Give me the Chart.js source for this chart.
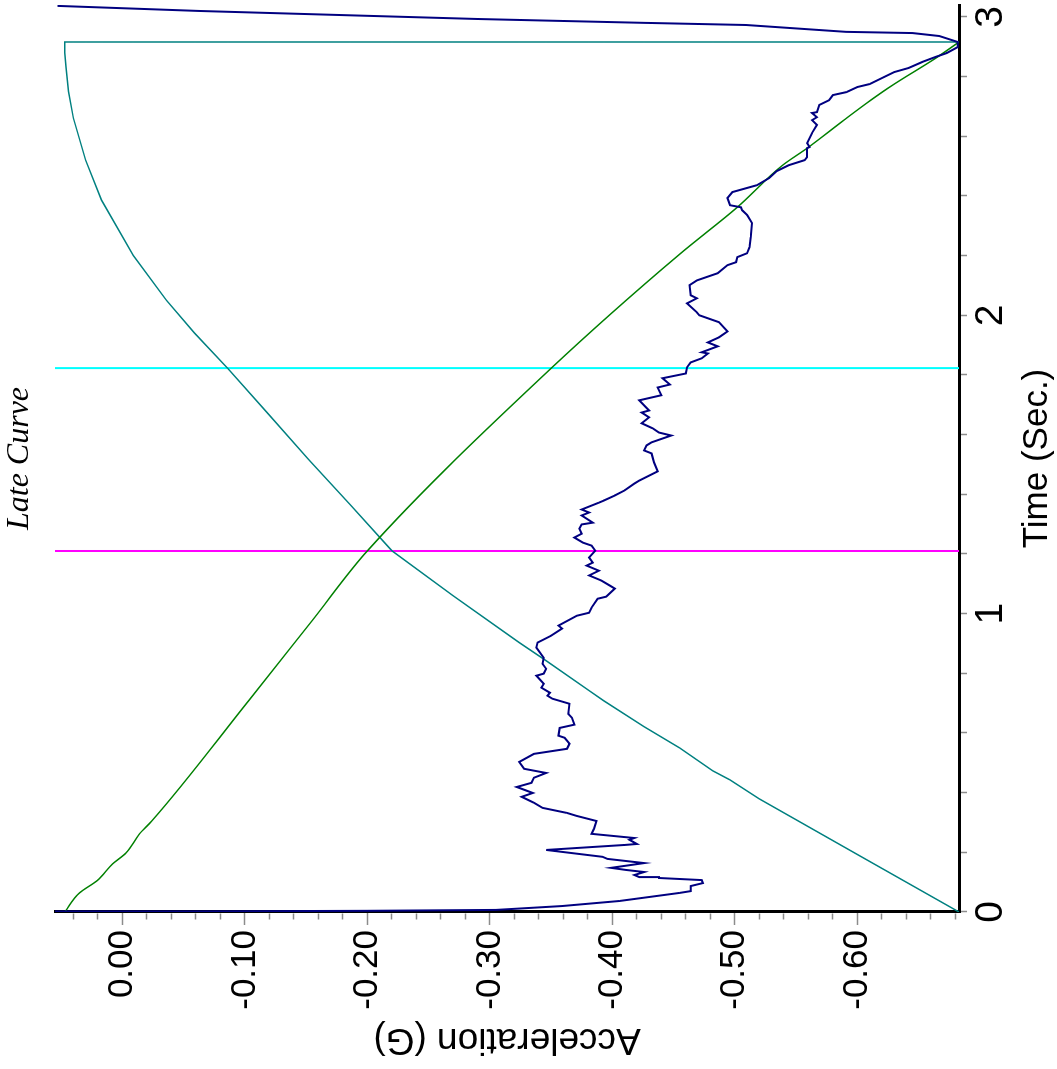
<!DOCTYPE html>
<html>
<head>
<meta charset="utf-8">
<script src="https://cdn.jsdelivr.net/npm/chart.js@4.4.1/dist/chart.umd.min.js"></script>
<style>
html,body{margin:0;padding:0;background:#fff;overflow:hidden;width:1057px;height:1069px}
#wrap{position:absolute;left:0;top:0;width:1069px;height:1057px;transform-origin:0 0;transform:translateY(1069px) rotate(-90deg);}
</style>
</head>
<body>
<div id="wrap"><canvas id="c" width="1069" height="1057"></canvas></div>
<script>
// ---- axis ranges & tick labels ----
const timeMin = 0, timeMax = 3.04;
const timeLabels = [0, 1, 2, 3];
const timeMinorStep = 0.2;
const accelMin = -0.683, accelMax = 0.055;
const accelLabels = [0, -0.1, -0.2, -0.3, -0.4, -0.5, -0.6];
const accelMinorStep = 0.02;

// ---- series: measured acceleration (navy) ----
const navyTime = [0.000,0.002,0.004,0.007,0.020,0.037,0.064,0.070,0.087,0.097,0.107,0.114,0.117,0.124,0.134,0.141,0.148,0.164,0.178,0.185,0.208,0.225,0.228,0.242,0.248,0.262,0.279,0.305,0.322,0.332,0.349,0.366,0.386,0.399,0.419,0.433,0.450,0.466,0.480,0.503,0.530,0.547,0.564,0.584,0.591,0.617,0.628,0.651,0.664,0.698,0.715,0.725,0.735,0.752,0.765,0.792,0.799,0.815,0.832,0.852,0.886,0.903,0.926,0.950,0.960,0.993,1.003,1.020,1.050,1.057,1.084,1.094,1.111,1.128,1.144,1.161,1.171,1.188,1.211,1.228,1.238,1.255,1.268,1.285,1.299,1.305,1.329,1.339,1.349,1.372,1.379,1.396,1.413,1.436,1.446,1.477,1.507,1.537,1.547,1.564,1.574,1.597,1.607,1.621,1.638,1.658,1.674,1.681,1.715,1.732,1.758,1.768,1.789,1.805,1.826,1.842,1.856,1.872,1.876,1.896,1.909,1.926,1.946,1.977,2.000,2.010,2.040,2.057,2.067,2.101,2.117,2.141,2.168,2.178,2.195,2.208,2.228,2.262,2.309,2.336,2.352,2.362,2.369,2.393,2.413,2.436,2.460,2.483,2.503,2.520,2.530,2.560,2.564,2.577,2.611,2.638,2.654,2.664,2.678,2.681,2.705,2.721,2.738,2.748,2.765,2.775,2.795,2.815,2.829,2.849,2.866,2.879,2.899,2.916,2.936,2.946,2.950,2.973,2.980,2.993,3.020,3.037];
const navyAccel = [0.055,-0.060,-0.200,-0.305,-0.359,-0.406,-0.455,-0.464,-0.464,-0.474,-0.473,-0.438,-0.422,-0.418,-0.426,-0.411,-0.399,-0.426,-0.396,-0.392,-0.346,-0.411,-0.420,-0.414,-0.418,-0.383,-0.385,-0.387,-0.371,-0.363,-0.343,-0.336,-0.326,-0.335,-0.322,-0.334,-0.336,-0.346,-0.328,-0.324,-0.336,-0.363,-0.365,-0.361,-0.356,-0.357,-0.369,-0.367,-0.364,-0.365,-0.351,-0.347,-0.349,-0.342,-0.344,-0.338,-0.344,-0.346,-0.343,-0.344,-0.338,-0.339,-0.350,-0.359,-0.356,-0.371,-0.381,-0.383,-0.388,-0.395,-0.402,-0.398,-0.391,-0.381,-0.389,-0.379,-0.384,-0.381,-0.386,-0.383,-0.376,-0.369,-0.375,-0.373,-0.375,-0.384,-0.375,-0.381,-0.375,-0.389,-0.393,-0.402,-0.410,-0.418,-0.422,-0.437,-0.434,-0.432,-0.426,-0.428,-0.432,-0.448,-0.438,-0.433,-0.424,-0.430,-0.424,-0.430,-0.422,-0.440,-0.437,-0.447,-0.441,-0.460,-0.461,-0.464,-0.473,-0.478,-0.473,-0.486,-0.478,-0.487,-0.494,-0.487,-0.471,-0.469,-0.461,-0.469,-0.464,-0.463,-0.469,-0.486,-0.494,-0.501,-0.502,-0.510,-0.512,-0.513,-0.514,-0.510,-0.506,-0.505,-0.496,-0.494,-0.498,-0.518,-0.528,-0.534,-0.544,-0.557,-0.559,-0.559,-0.561,-0.559,-0.563,-0.567,-0.563,-0.567,-0.563,-0.567,-0.569,-0.577,-0.580,-0.591,-0.600,-0.610,-0.620,-0.630,-0.642,-0.653,-0.664,-0.673,-0.682,-0.682,-0.667,-0.645,-0.591,-0.509,-0.428,-0.291,-0.063,0.053];

// ---- series: teal curve ----
const tealTime = [0.000,0.188,0.379,0.443,0.473,0.550,0.621,0.708,0.742,0.842,0.903,1.060,1.211,1.365,1.517,1.670,1.822,1.940,2.050,2.200,2.386,2.520,2.661,2.750,2.832,2.880,2.916,2.916];
const tealAccel = [-0.683,-0.602,-0.520,-0.496,-0.482,-0.455,-0.426,-0.393,-0.381,-0.346,-0.324,-0.270,-0.220,-0.186,-0.152,-0.119,-0.086,-0.059,-0.036,-0.009,0.017,0.030,0.040,0.044,0.046,0.047,0.047,-0.683];

// ---- series: green curve ----
const greenTime = [0.000,0.064,0.104,0.161,0.198,0.262,0.305,0.708,0.977,1.215,1.822,2.205,2.362,2.503,2.560,2.654,2.721,2.772,2.862,2.913];
const greenAccel = [0.047,0.035,0.021,0.008,-0.003,-0.014,-0.024,-0.103,-0.155,-0.201,-0.350,-0.455,-0.502,-0.539,-0.559,-0.589,-0.611,-0.629,-0.664,-0.682];

// ---- event markers (vertical lines) ----
const magentaTime = 1.210;
const cyanTime = 1.823;

const pts = (xs, ys) => xs.map((x, i) => ({x: x, y: ys[i]}));
const vline = (t) => [{x: t, y: accelMax}, {x: t, y: accelMin}];
const near = (v, arr) => arr.some(a => Math.abs(a - v) < 1e-6);

Chart.defaults.font.family = "'Liberation Sans', Arial, sans-serif";
Chart.defaults.color = '#000';

new Chart(document.getElementById('c'), {
  type: 'scatter',
  data: {
    datasets: [
      {data: pts(navyTime, navyAccel), showLine: true, borderColor: '#000080', borderWidth: 2, pointRadius: 0},
      {data: pts(greenTime, greenAccel), showLine: true, borderColor: '#008000', borderWidth: 1.5, pointRadius: 0, cubicInterpolationMode: 'monotone'},
      {data: pts(tealTime, tealAccel), showLine: true, borderColor: '#008080', borderWidth: 1.5, pointRadius: 0},
      {data: vline(cyanTime), showLine: true, borderColor: '#00ffff', borderWidth: 2, pointRadius: 0},
      {data: vline(magentaTime), showLine: true, borderColor: '#ff00ff', borderWidth: 2, pointRadius: 0}
    ]
  },
  options: {
    responsive: false,
    animation: false,
    events: [],
    layout: {padding: {top: 0, right: 5, bottom: 0, left: 0}},
    plugins: {
      legend: {display: false},
      tooltip: {enabled: false},
      title: {
        display: true,
        text: 'Late Curve',
        fullSize: false,
        color: '#000',
        font: {family: "'Liberation Serif', 'Times New Roman', serif", style: 'italic', weight: 'normal', size: 32, lineHeight: 1.2},
        padding: {top: 0, bottom: 16.6}
      }
    },
    scales: {
      x: {
        type: 'linear',
        position: 'bottom',
        min: timeMin,
        max: timeMax,
        afterBuildTicks: (s) => {
          const last = Math.max(...timeLabels);
          const n = Math.round(last / timeMinorStep);
          const t = [];
          for (let i = 0; i <= n; i++) t.push({value: +(i * timeMinorStep).toFixed(4)});
          s.ticks = t;
        },
        afterFit: (s) => { s.height = 98; },
        ticks: {
          autoSkip: false,
          maxRotation: 0,
          minRotation: 0,
          padding: 1,
          font: {size: 39, lineHeight: 1.2},
          color: '#000',
          callback: (v) => near(v, timeLabels) ? String(Math.round(v)) : ''
        },
        grid: {drawOnChartArea: false, drawTicks: true, tickLength: 8, tickColor: '#8c8c8c', tickWidth: 1.5},
        border: {display: true, color: '#000', width: 3},
        title: {display: true, text: 'Time (Sec.)', color: '#000', font: {size: 35, lineHeight: 1}, padding: {top: 0, bottom: 2.5}}
      },
      y: {
        type: 'linear',
        position: 'left',
        min: accelMin,
        max: accelMax,
        afterBuildTicks: (s) => {
          const k0 = Math.ceil(accelMin / accelMinorStep - 1e-6);
          const k1 = Math.floor(accelMax / accelMinorStep + 1e-6);
          const t = [];
          for (let k = k0; k <= k1; k++) t.push({value: +(k * accelMinorStep).toFixed(4)});
          s.ticks = t;
        },
        afterFit: (s) => { s.width = 157; },
        ticks: {
          autoSkip: false,
          padding: 5,
          font: {size: 35, lineHeight: 1.2},
          color: '#000',
          callback: (v) => near(v, accelLabels) ? Number(v).toFixed(2) : ''
        },
        grid: {
          drawOnChartArea: false,
          drawTicks: true,
          tickLength: 13,
          tickColor: '#8c8c8c',
          tickWidth: 1.5,
          tickBorderDash: (ctx) => (ctx.tick && near(ctx.tick.value, accelLabels)) ? [] : [0, 5.5, 6, 100]
        },
        border: {display: true, color: '#000', width: 3},
        title: {display: true, text: 'Acceleration (G)', color: '#000', font: {size: 37, lineHeight: 1.2}, padding: {top: 8, bottom: 0}}
      }
    }
  }
});
</script>
</body>
</html>
